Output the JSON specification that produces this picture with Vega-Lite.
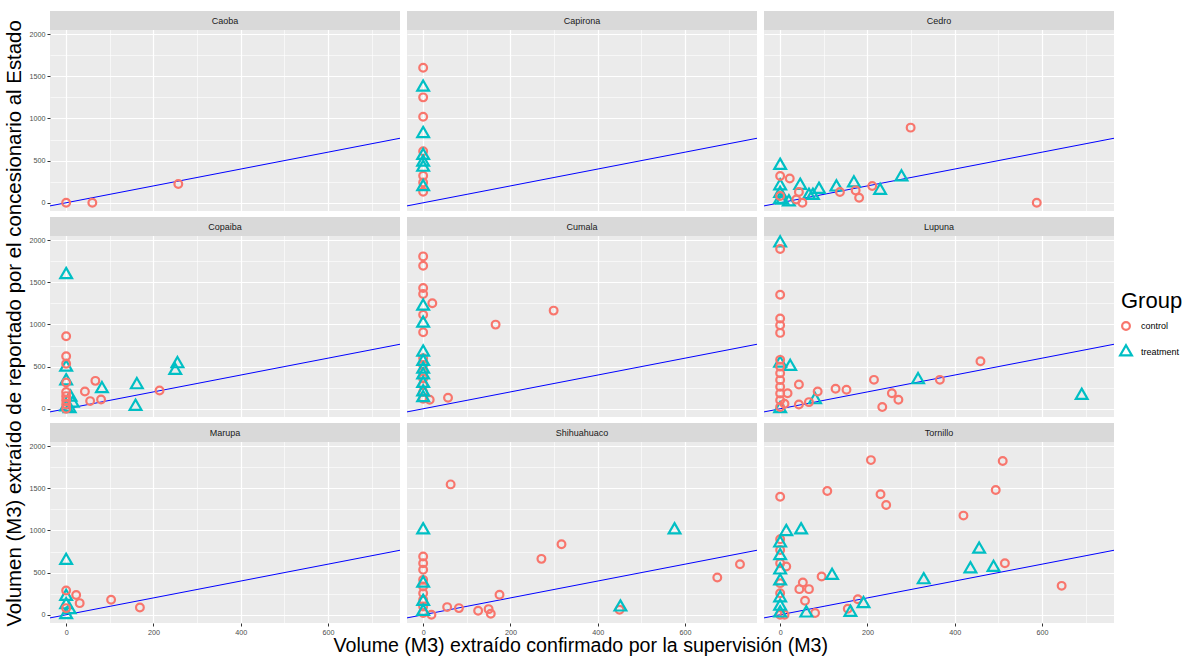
{
  "$schema": "https://vega.github.io/schema/vega-lite/v6.json",
  "background": "white",
  "padding": {"left": 4, "top": 11, "right": 5, "bottom": 2},
  "config": {
    "font": "Liberation Sans",
    "view": {"stroke": null, "fill": "#EBEBEB"},
    "concat": {"spacing": 5},
    "point": {"opacity": 1},
    "axis": {"domain": false, "gridColor": "white", "tickColor": "#333333", "tickSize": 3, "labelFontSize": 7.2, "labelColor": "#4D4D4D", "labelPadding": 2, "title": null},
    "legend": {"orient": "none", "legendX": 1071, "legendY": 280, "titleFontSize": 22, "titleFontWeight": "normal", "titleColor": "black", "labelFontSize": 9, "labelColor": "black", "labelOffset": 10, "symbolStrokeWidth": 2.2, "symbolSize": 60, "symbolOpacity": 1, "rowPadding": 5, "titlePadding": 8}
  },
  "data": {"values": [
    {"species":"Caoba","group":"control","x":0,"y":0},
    {"species":"Caoba","group":"control","x":60,"y":0},
    {"species":"Caoba","group":"control","x":257,"y":222},
    {"species":"Capirona","group":"control","x":0,"y":1600},
    {"species":"Capirona","group":"control","x":0,"y":1250},
    {"species":"Capirona","group":"control","x":0,"y":1020},
    {"species":"Capirona","group":"control","x":0,"y":610},
    {"species":"Capirona","group":"control","x":0,"y":320},
    {"species":"Capirona","group":"control","x":0,"y":240},
    {"species":"Capirona","group":"control","x":0,"y":130},
    {"species":"Capirona","group":"treatment","x":0,"y":1370},
    {"species":"Capirona","group":"treatment","x":0,"y":820},
    {"species":"Capirona","group":"treatment","x":0,"y":560},
    {"species":"Capirona","group":"treatment","x":0,"y":480},
    {"species":"Capirona","group":"treatment","x":0,"y":420},
    {"species":"Capirona","group":"treatment","x":0,"y":190},
    {"species":"Cedro","group":"treatment","x":0,"y":443},
    {"species":"Cedro","group":"treatment","x":0,"y":200},
    {"species":"Cedro","group":"treatment","x":0,"y":110},
    {"species":"Cedro","group":"treatment","x":0,"y":40},
    {"species":"Cedro","group":"treatment","x":5,"y":30},
    {"species":"Cedro","group":"treatment","x":20,"y":10},
    {"species":"Cedro","group":"treatment","x":46,"y":206},
    {"species":"Cedro","group":"treatment","x":66,"y":87},
    {"species":"Cedro","group":"treatment","x":75,"y":87},
    {"species":"Cedro","group":"treatment","x":89,"y":158},
    {"species":"Cedro","group":"treatment","x":129,"y":186},
    {"species":"Cedro","group":"treatment","x":169,"y":234},
    {"species":"Cedro","group":"treatment","x":229,"y":147},
    {"species":"Cedro","group":"treatment","x":278,"y":305},
    {"species":"Cedro","group":"control","x":0,"y":317},
    {"species":"Cedro","group":"control","x":0,"y":80},
    {"species":"Cedro","group":"control","x":22,"y":289},
    {"species":"Cedro","group":"control","x":43,"y":127},
    {"species":"Cedro","group":"control","x":37,"y":40},
    {"species":"Cedro","group":"control","x":51,"y":0},
    {"species":"Cedro","group":"control","x":137,"y":127},
    {"species":"Cedro","group":"control","x":173,"y":147},
    {"species":"Cedro","group":"control","x":181,"y":59},
    {"species":"Cedro","group":"control","x":211,"y":198},
    {"species":"Cedro","group":"control","x":299,"y":891},
    {"species":"Cedro","group":"control","x":588,"y":0},
    {"species":"Copaiba","group":"treatment","x":0,"y":1590},
    {"species":"Copaiba","group":"treatment","x":0,"y":493},
    {"species":"Copaiba","group":"treatment","x":0,"y":330},
    {"species":"Copaiba","group":"treatment","x":10,"y":138},
    {"species":"Copaiba","group":"treatment","x":15,"y":67},
    {"species":"Copaiba","group":"treatment","x":8,"y":0},
    {"species":"Copaiba","group":"treatment","x":0,"y":20},
    {"species":"Copaiba","group":"treatment","x":82,"y":237},
    {"species":"Copaiba","group":"treatment","x":162,"y":284},
    {"species":"Copaiba","group":"treatment","x":159,"y":28},
    {"species":"Copaiba","group":"treatment","x":255,"y":533},
    {"species":"Copaiba","group":"treatment","x":250,"y":454},
    {"species":"Copaiba","group":"control","x":0,"y":860},
    {"species":"Copaiba","group":"control","x":0,"y":623},
    {"species":"Copaiba","group":"control","x":0,"y":533},
    {"species":"Copaiba","group":"control","x":0,"y":312},
    {"species":"Copaiba","group":"control","x":0,"y":200},
    {"species":"Copaiba","group":"control","x":0,"y":150},
    {"species":"Copaiba","group":"control","x":0,"y":100},
    {"species":"Copaiba","group":"control","x":0,"y":50},
    {"species":"Copaiba","group":"control","x":0,"y":0},
    {"species":"Copaiba","group":"control","x":43,"y":205},
    {"species":"Copaiba","group":"control","x":55,"y":91},
    {"species":"Copaiba","group":"control","x":67,"y":331},
    {"species":"Copaiba","group":"control","x":80,"y":110},
    {"species":"Copaiba","group":"control","x":214,"y":217},
    {"species":"Cumala","group":"control","x":0,"y":1807},
    {"species":"Cumala","group":"control","x":0,"y":1697},
    {"species":"Cumala","group":"control","x":0,"y":1432},
    {"species":"Cumala","group":"control","x":0,"y":1361},
    {"species":"Cumala","group":"control","x":21,"y":1251},
    {"species":"Cumala","group":"control","x":0,"y":1116},
    {"species":"Cumala","group":"control","x":0,"y":907},
    {"species":"Cumala","group":"control","x":0,"y":600},
    {"species":"Cumala","group":"control","x":0,"y":520},
    {"species":"Cumala","group":"control","x":0,"y":440},
    {"species":"Cumala","group":"control","x":0,"y":360},
    {"species":"Cumala","group":"control","x":0,"y":280},
    {"species":"Cumala","group":"control","x":0,"y":200},
    {"species":"Cumala","group":"control","x":0,"y":120},
    {"species":"Cumala","group":"control","x":15,"y":107},
    {"species":"Cumala","group":"control","x":57,"y":130},
    {"species":"Cumala","group":"control","x":166,"y":998},
    {"species":"Cumala","group":"control","x":299,"y":1164},
    {"species":"Cumala","group":"treatment","x":0,"y":1215},
    {"species":"Cumala","group":"treatment","x":0,"y":1014},
    {"species":"Cumala","group":"treatment","x":0,"y":671},
    {"species":"Cumala","group":"treatment","x":0,"y":560},
    {"species":"Cumala","group":"treatment","x":0,"y":470},
    {"species":"Cumala","group":"treatment","x":0,"y":400},
    {"species":"Cumala","group":"treatment","x":0,"y":300},
    {"species":"Cumala","group":"treatment","x":0,"y":200},
    {"species":"Cumala","group":"treatment","x":0,"y":130},
    {"species":"Lupuna","group":"treatment","x":0,"y":1965},
    {"species":"Lupuna","group":"treatment","x":0,"y":540},
    {"species":"Lupuna","group":"treatment","x":0,"y":0},
    {"species":"Lupuna","group":"treatment","x":23,"y":501},
    {"species":"Lupuna","group":"treatment","x":80,"y":106},
    {"species":"Lupuna","group":"treatment","x":316,"y":343},
    {"species":"Lupuna","group":"treatment","x":691,"y":158},
    {"species":"Lupuna","group":"control","x":0,"y":1894},
    {"species":"Lupuna","group":"control","x":0,"y":1353},
    {"species":"Lupuna","group":"control","x":0,"y":1070},
    {"species":"Lupuna","group":"control","x":0,"y":990},
    {"species":"Lupuna","group":"control","x":0,"y":900},
    {"species":"Lupuna","group":"control","x":0,"y":580},
    {"species":"Lupuna","group":"control","x":0,"y":500},
    {"species":"Lupuna","group":"control","x":0,"y":420},
    {"species":"Lupuna","group":"control","x":0,"y":340},
    {"species":"Lupuna","group":"control","x":0,"y":260},
    {"species":"Lupuna","group":"control","x":0,"y":180},
    {"species":"Lupuna","group":"control","x":0,"y":100},
    {"species":"Lupuna","group":"control","x":0,"y":20},
    {"species":"Lupuna","group":"control","x":10,"y":60},
    {"species":"Lupuna","group":"control","x":17,"y":185},
    {"species":"Lupuna","group":"control","x":43,"y":288},
    {"species":"Lupuna","group":"control","x":43,"y":51},
    {"species":"Lupuna","group":"control","x":66,"y":79},
    {"species":"Lupuna","group":"control","x":86,"y":205},
    {"species":"Lupuna","group":"control","x":127,"y":237},
    {"species":"Lupuna","group":"control","x":152,"y":225},
    {"species":"Lupuna","group":"control","x":215,"y":343},
    {"species":"Lupuna","group":"control","x":234,"y":20},
    {"species":"Lupuna","group":"control","x":256,"y":185},
    {"species":"Lupuna","group":"control","x":271,"y":106},
    {"species":"Lupuna","group":"control","x":366,"y":343},
    {"species":"Lupuna","group":"control","x":459,"y":564},
    {"species":"Marupa","group":"treatment","x":0,"y":643},
    {"species":"Marupa","group":"treatment","x":0,"y":217},
    {"species":"Marupa","group":"treatment","x":0,"y":118},
    {"species":"Marupa","group":"treatment","x":0,"y":0},
    {"species":"Marupa","group":"treatment","x":8,"y":59},
    {"species":"Marupa","group":"control","x":0,"y":288},
    {"species":"Marupa","group":"control","x":0,"y":79},
    {"species":"Marupa","group":"control","x":23,"y":235},
    {"species":"Marupa","group":"control","x":31,"y":138},
    {"species":"Marupa","group":"control","x":103,"y":178},
    {"species":"Marupa","group":"control","x":169,"y":87},
    {"species":"Shihuahuaco","group":"control","x":63,"y":1546},
    {"species":"Shihuahuaco","group":"control","x":317,"y":836},
    {"species":"Shihuahuaco","group":"control","x":271,"y":663},
    {"species":"Shihuahuaco","group":"control","x":726,"y":600},
    {"species":"Shihuahuaco","group":"control","x":674,"y":442},
    {"species":"Shihuahuaco","group":"control","x":175,"y":237},
    {"species":"Shihuahuaco","group":"control","x":55,"y":91},
    {"species":"Shihuahuaco","group":"control","x":82,"y":79},
    {"species":"Shihuahuaco","group":"control","x":126,"y":47},
    {"species":"Shihuahuaco","group":"control","x":150,"y":67},
    {"species":"Shihuahuaco","group":"control","x":155,"y":12},
    {"species":"Shihuahuaco","group":"control","x":19,"y":0},
    {"species":"Shihuahuaco","group":"control","x":450,"y":59},
    {"species":"Shihuahuaco","group":"control","x":0,"y":690},
    {"species":"Shihuahuaco","group":"control","x":0,"y":611},
    {"species":"Shihuahuaco","group":"control","x":0,"y":533},
    {"species":"Shihuahuaco","group":"control","x":0,"y":414},
    {"species":"Shihuahuaco","group":"control","x":0,"y":335},
    {"species":"Shihuahuaco","group":"control","x":0,"y":256},
    {"species":"Shihuahuaco","group":"control","x":0,"y":177},
    {"species":"Shihuahuaco","group":"control","x":0,"y":99},
    {"species":"Shihuahuaco","group":"control","x":0,"y":20},
    {"species":"Shihuahuaco","group":"treatment","x":0,"y":1006},
    {"species":"Shihuahuaco","group":"treatment","x":576,"y":1006},
    {"species":"Shihuahuaco","group":"treatment","x":452,"y":91},
    {"species":"Shihuahuaco","group":"treatment","x":0,"y":375},
    {"species":"Shihuahuaco","group":"treatment","x":0,"y":158},
    {"species":"Shihuahuaco","group":"treatment","x":0,"y":40},
    {"species":"Tornillo","group":"control","x":0,"y":1400},
    {"species":"Tornillo","group":"control","x":108,"y":1468},
    {"species":"Tornillo","group":"control","x":208,"y":1834},
    {"species":"Tornillo","group":"control","x":510,"y":1823},
    {"species":"Tornillo","group":"control","x":230,"y":1428},
    {"species":"Tornillo","group":"control","x":243,"y":1302},
    {"species":"Tornillo","group":"control","x":494,"y":1479},
    {"species":"Tornillo","group":"control","x":420,"y":1176},
    {"species":"Tornillo","group":"control","x":515,"y":611},
    {"species":"Tornillo","group":"control","x":645,"y":343},
    {"species":"Tornillo","group":"control","x":95,"y":454},
    {"species":"Tornillo","group":"control","x":52,"y":383},
    {"species":"Tornillo","group":"control","x":44,"y":304},
    {"species":"Tornillo","group":"control","x":66,"y":304},
    {"species":"Tornillo","group":"control","x":57,"y":166},
    {"species":"Tornillo","group":"control","x":178,"y":185},
    {"species":"Tornillo","group":"control","x":155,"y":71},
    {"species":"Tornillo","group":"control","x":80,"y":20},
    {"species":"Tornillo","group":"control","x":14,"y":572},
    {"species":"Tornillo","group":"control","x":10,"y":0},
    {"species":"Tornillo","group":"control","x":0,"y":895},
    {"species":"Tornillo","group":"control","x":0,"y":769},
    {"species":"Tornillo","group":"control","x":0,"y":611},
    {"species":"Tornillo","group":"control","x":0,"y":375},
    {"species":"Tornillo","group":"control","x":0,"y":256},
    {"species":"Tornillo","group":"control","x":0,"y":0},
    {"species":"Tornillo","group":"treatment","x":14,"y":986},
    {"species":"Tornillo","group":"treatment","x":48,"y":1006},
    {"species":"Tornillo","group":"treatment","x":456,"y":777},
    {"species":"Tornillo","group":"treatment","x":436,"y":544},
    {"species":"Tornillo","group":"treatment","x":489,"y":560},
    {"species":"Tornillo","group":"treatment","x":329,"y":414},
    {"species":"Tornillo","group":"treatment","x":119,"y":465},
    {"species":"Tornillo","group":"treatment","x":191,"y":130},
    {"species":"Tornillo","group":"treatment","x":161,"y":28},
    {"species":"Tornillo","group":"treatment","x":60,"y":20},
    {"species":"Tornillo","group":"treatment","x":0,"y":850},
    {"species":"Tornillo","group":"treatment","x":0,"y":700},
    {"species":"Tornillo","group":"treatment","x":0,"y":530},
    {"species":"Tornillo","group":"treatment","x":0,"y":400},
    {"species":"Tornillo","group":"treatment","x":0,"y":200},
    {"species":"Tornillo","group":"treatment","x":0,"y":100},
    {"species":"Tornillo","group":"treatment","x":0,"y":20}
  ]},
  "title": {"text": "Volumen (M3) extraído de reportado por el concesionario al Estado", "orient": "left", "anchor": "middle", "fontSize": 20.4, "fontWeight": "normal", "color": "black", "offset": 4, "dx": 10},
  "vconcat": [
    {
      "title": {"text": "Volume (M3) extraído confirmado por la supervisión (M3)", "orient": "bottom", "anchor": "middle", "fontSize": 19.6, "fontWeight": "normal", "color": "black", "offset": 2, "dx": 9},
      "vconcat": [
        {"hconcat": [
          {"width": 350, "height": 200,
           "encoding": {
             "x": {"field": "x", "type": "quantitative", "scale": {"domain": [-37, 765], "nice": false, "zero": false}, "axis": {"values": [0,100,200,300,400,500,600,700], "labels": false, "ticks": false, "gridWidth": {"condition": {"test": "datum.value % 200 === 0", "value": 1.2}, "value": 0.6}}},
             "y": {"field": "y", "type": "quantitative", "scale": {"domain": [-97.5, 2274], "nice": false, "zero": false}, "axis": {"values": [0,250,500,750,1000,1250,1500,1750,2000], "format": "d", "labelExpr": "datum.value % 500 === 0 ? datum.label : ''", "gridWidth": {"condition": {"test": "datum.value % 500 === 0", "value": 1.2}, "value": 0.6}, "tickOpacity": {"condition": {"test": "datum.value % 500 === 0", "value": 1}, "value": 0}}}
           },
           "layer": [
             {"transform": [{"filter": {"and": [{"field": "species", "equal": "Caoba"}, {"field": "x", "equal": 257}]}}], "mark": {"type": "rect", "fill": "#D9D9D9"}, "encoding": {"x": {"datum": -37}, "x2": {"datum": 765}, "y": {"datum": 2047.5}, "y2": {"datum": 2274}}},
             {"transform": [{"filter": {"and": [{"field": "species", "equal": "Caoba"}, {"field": "x", "equal": 257}]}}], "mark": {"type": "text", "fontSize": 9, "color": "#1A1A1A"}, "encoding": {"x": {"datum": 364}, "y": {"datum": 2161}, "text": {"field": "species"}}},
             {"transform": [{"filter": {"and": [{"field": "species", "equal": "Caoba"}, {"field": "x", "equal": 257}]}}], "mark": {"type": "rule", "color": "#0000FF", "strokeWidth": 1}, "encoding": {"x": {"datum": -37}, "y": {"datum": -37}, "x2": {"datum": 765}, "y2": {"datum": 765}}},
             {"transform": [{"filter": {"field": "species", "equal": "Caoba"}}], "mark": {"type": "point", "filled": false, "strokeWidth": 2.2, "size": 60, "opacity": 1},
              "encoding": {
                "color": {"field": "group", "type": "nominal", "title": "Group", "scale": {"domain": ["control", "treatment"], "range": ["#F8766D", "#00BFC4"]}},
                "shape": {"field": "group", "type": "nominal", "title": "Group", "scale": {"domain": ["control", "treatment"], "range": ["circle", "M0,-1.75L1.52,0.88L-1.52,0.88Z"]}}}}
           ]},
          {"width": 350, "height": 200,
           "encoding": {
             "x": {"field": "x", "type": "quantitative", "scale": {"domain": [-37, 765], "nice": false, "zero": false}, "axis": {"values": [0,100,200,300,400,500,600,700], "labels": false, "ticks": false, "gridWidth": {"condition": {"test": "datum.value % 200 === 0", "value": 1.2}, "value": 0.6}}},
             "y": {"field": "y", "type": "quantitative", "scale": {"domain": [-97.5, 2274], "nice": false, "zero": false}, "axis": {"values": [0,250,500,750,1000,1250,1500,1750,2000], "labels": false, "ticks": false, "gridWidth": {"condition": {"test": "datum.value % 500 === 0", "value": 1.2}, "value": 0.6}}}
           },
           "layer": [
             {"transform": [{"filter": {"and": [{"field": "species", "equal": "Capirona"}, {"field": "y", "equal": 1600}]}}], "mark": {"type": "rect", "fill": "#D9D9D9"}, "encoding": {"x": {"datum": -37}, "x2": {"datum": 765}, "y": {"datum": 2047.5}, "y2": {"datum": 2274}}},
             {"transform": [{"filter": {"and": [{"field": "species", "equal": "Capirona"}, {"field": "y", "equal": 1600}]}}], "mark": {"type": "text", "fontSize": 9, "color": "#1A1A1A"}, "encoding": {"x": {"datum": 364}, "y": {"datum": 2161}, "text": {"field": "species"}}},
             {"transform": [{"filter": {"and": [{"field": "species", "equal": "Capirona"}, {"field": "y", "equal": 1600}]}}], "mark": {"type": "rule", "color": "#0000FF", "strokeWidth": 1}, "encoding": {"x": {"datum": -37}, "y": {"datum": -37}, "x2": {"datum": 765}, "y2": {"datum": 765}}},
             {"transform": [{"filter": {"field": "species", "equal": "Capirona"}}], "mark": {"type": "point", "filled": false, "strokeWidth": 2.2, "size": 60, "opacity": 1},
              "encoding": {
                "color": {"field": "group", "type": "nominal", "title": "Group", "scale": {"domain": ["control", "treatment"], "range": ["#F8766D", "#00BFC4"]}},
                "shape": {"field": "group", "type": "nominal", "title": "Group", "scale": {"domain": ["control", "treatment"], "range": ["circle", "M0,-1.75L1.52,0.88L-1.52,0.88Z"]}}}}
           ]},
          {"width": 350, "height": 200,
           "encoding": {
             "x": {"field": "x", "type": "quantitative", "scale": {"domain": [-37, 765], "nice": false, "zero": false}, "axis": {"values": [0,100,200,300,400,500,600,700], "labels": false, "ticks": false, "gridWidth": {"condition": {"test": "datum.value % 200 === 0", "value": 1.2}, "value": 0.6}}},
             "y": {"field": "y", "type": "quantitative", "scale": {"domain": [-97.5, 2274], "nice": false, "zero": false}, "axis": {"values": [0,250,500,750,1000,1250,1500,1750,2000], "labels": false, "ticks": false, "gridWidth": {"condition": {"test": "datum.value % 500 === 0", "value": 1.2}, "value": 0.6}}}
           },
           "layer": [
             {"transform": [{"filter": {"and": [{"field": "species", "equal": "Cedro"}, {"field": "x", "equal": 588}]}}], "mark": {"type": "rect", "fill": "#D9D9D9"}, "encoding": {"x": {"datum": -37}, "x2": {"datum": 765}, "y": {"datum": 2047.5}, "y2": {"datum": 2274}}},
             {"transform": [{"filter": {"and": [{"field": "species", "equal": "Cedro"}, {"field": "x", "equal": 588}]}}], "mark": {"type": "text", "fontSize": 9, "color": "#1A1A1A"}, "encoding": {"x": {"datum": 364}, "y": {"datum": 2161}, "text": {"field": "species"}}},
             {"transform": [{"filter": {"and": [{"field": "species", "equal": "Cedro"}, {"field": "x", "equal": 588}]}}], "mark": {"type": "rule", "color": "#0000FF", "strokeWidth": 1}, "encoding": {"x": {"datum": -37}, "y": {"datum": -37}, "x2": {"datum": 765}, "y2": {"datum": 765}}},
             {"transform": [{"filter": {"field": "species", "equal": "Cedro"}}], "mark": {"type": "point", "filled": false, "strokeWidth": 2.2, "size": 60, "opacity": 1},
              "encoding": {
                "color": {"field": "group", "type": "nominal", "title": "Group", "scale": {"domain": ["control", "treatment"], "range": ["#F8766D", "#00BFC4"]}},
                "shape": {"field": "group", "type": "nominal", "title": "Group", "scale": {"domain": ["control", "treatment"], "range": ["circle", "M0,-1.75L1.52,0.88L-1.52,0.88Z"]}}}}
           ]}
        ]},
        {"hconcat": [
          {"width": 350, "height": 200,
           "encoding": {
             "x": {"field": "x", "type": "quantitative", "scale": {"domain": [-37, 765], "nice": false, "zero": false}, "axis": {"values": [0,100,200,300,400,500,600,700], "labels": false, "ticks": false, "gridWidth": {"condition": {"test": "datum.value % 200 === 0", "value": 1.2}, "value": 0.6}}},
             "y": {"field": "y", "type": "quantitative", "scale": {"domain": [-97.5, 2274], "nice": false, "zero": false}, "axis": {"values": [0,250,500,750,1000,1250,1500,1750,2000], "format": "d", "labelExpr": "datum.value % 500 === 0 ? datum.label : ''", "gridWidth": {"condition": {"test": "datum.value % 500 === 0", "value": 1.2}, "value": 0.6}, "tickOpacity": {"condition": {"test": "datum.value % 500 === 0", "value": 1}, "value": 0}}}
           },
           "layer": [
             {"transform": [{"filter": {"and": [{"field": "species", "equal": "Copaiba"}, {"field": "x", "equal": 214}]}}], "mark": {"type": "rect", "fill": "#D9D9D9"}, "encoding": {"x": {"datum": -37}, "x2": {"datum": 765}, "y": {"datum": 2047.5}, "y2": {"datum": 2274}}},
             {"transform": [{"filter": {"and": [{"field": "species", "equal": "Copaiba"}, {"field": "x", "equal": 214}]}}], "mark": {"type": "text", "fontSize": 9, "color": "#1A1A1A"}, "encoding": {"x": {"datum": 364}, "y": {"datum": 2161}, "text": {"field": "species"}}},
             {"transform": [{"filter": {"and": [{"field": "species", "equal": "Copaiba"}, {"field": "x", "equal": 214}]}}], "mark": {"type": "rule", "color": "#0000FF", "strokeWidth": 1}, "encoding": {"x": {"datum": -37}, "y": {"datum": -37}, "x2": {"datum": 765}, "y2": {"datum": 765}}},
             {"transform": [{"filter": {"field": "species", "equal": "Copaiba"}}], "mark": {"type": "point", "filled": false, "strokeWidth": 2.2, "size": 60, "opacity": 1},
              "encoding": {
                "color": {"field": "group", "type": "nominal", "title": "Group", "scale": {"domain": ["control", "treatment"], "range": ["#F8766D", "#00BFC4"]}},
                "shape": {"field": "group", "type": "nominal", "title": "Group", "scale": {"domain": ["control", "treatment"], "range": ["circle", "M0,-1.75L1.52,0.88L-1.52,0.88Z"]}}}}
           ]},
          {"width": 350, "height": 200,
           "encoding": {
             "x": {"field": "x", "type": "quantitative", "scale": {"domain": [-37, 765], "nice": false, "zero": false}, "axis": {"values": [0,100,200,300,400,500,600,700], "labels": false, "ticks": false, "gridWidth": {"condition": {"test": "datum.value % 200 === 0", "value": 1.2}, "value": 0.6}}},
             "y": {"field": "y", "type": "quantitative", "scale": {"domain": [-97.5, 2274], "nice": false, "zero": false}, "axis": {"values": [0,250,500,750,1000,1250,1500,1750,2000], "labels": false, "ticks": false, "gridWidth": {"condition": {"test": "datum.value % 500 === 0", "value": 1.2}, "value": 0.6}}}
           },
           "layer": [
             {"transform": [{"filter": {"and": [{"field": "species", "equal": "Cumala"}, {"field": "x", "equal": 166}]}}], "mark": {"type": "rect", "fill": "#D9D9D9"}, "encoding": {"x": {"datum": -37}, "x2": {"datum": 765}, "y": {"datum": 2047.5}, "y2": {"datum": 2274}}},
             {"transform": [{"filter": {"and": [{"field": "species", "equal": "Cumala"}, {"field": "x", "equal": 166}]}}], "mark": {"type": "text", "fontSize": 9, "color": "#1A1A1A"}, "encoding": {"x": {"datum": 364}, "y": {"datum": 2161}, "text": {"field": "species"}}},
             {"transform": [{"filter": {"and": [{"field": "species", "equal": "Cumala"}, {"field": "x", "equal": 166}]}}], "mark": {"type": "rule", "color": "#0000FF", "strokeWidth": 1}, "encoding": {"x": {"datum": -37}, "y": {"datum": -37}, "x2": {"datum": 765}, "y2": {"datum": 765}}},
             {"transform": [{"filter": {"field": "species", "equal": "Cumala"}}], "mark": {"type": "point", "filled": false, "strokeWidth": 2.2, "size": 60, "opacity": 1},
              "encoding": {
                "color": {"field": "group", "type": "nominal", "title": "Group", "scale": {"domain": ["control", "treatment"], "range": ["#F8766D", "#00BFC4"]}},
                "shape": {"field": "group", "type": "nominal", "title": "Group", "scale": {"domain": ["control", "treatment"], "range": ["circle", "M0,-1.75L1.52,0.88L-1.52,0.88Z"]}}}}
           ]},
          {"width": 350, "height": 200,
           "encoding": {
             "x": {"field": "x", "type": "quantitative", "scale": {"domain": [-37, 765], "nice": false, "zero": false}, "axis": {"values": [0,100,200,300,400,500,600,700], "labels": false, "ticks": false, "gridWidth": {"condition": {"test": "datum.value % 200 === 0", "value": 1.2}, "value": 0.6}}},
             "y": {"field": "y", "type": "quantitative", "scale": {"domain": [-97.5, 2274], "nice": false, "zero": false}, "axis": {"values": [0,250,500,750,1000,1250,1500,1750,2000], "labels": false, "ticks": false, "gridWidth": {"condition": {"test": "datum.value % 500 === 0", "value": 1.2}, "value": 0.6}}}
           },
           "layer": [
             {"transform": [{"filter": {"and": [{"field": "species", "equal": "Lupuna"}, {"field": "x", "equal": 691}]}}], "mark": {"type": "rect", "fill": "#D9D9D9"}, "encoding": {"x": {"datum": -37}, "x2": {"datum": 765}, "y": {"datum": 2047.5}, "y2": {"datum": 2274}}},
             {"transform": [{"filter": {"and": [{"field": "species", "equal": "Lupuna"}, {"field": "x", "equal": 691}]}}], "mark": {"type": "text", "fontSize": 9, "color": "#1A1A1A"}, "encoding": {"x": {"datum": 364}, "y": {"datum": 2161}, "text": {"field": "species"}}},
             {"transform": [{"filter": {"and": [{"field": "species", "equal": "Lupuna"}, {"field": "x", "equal": 691}]}}], "mark": {"type": "rule", "color": "#0000FF", "strokeWidth": 1}, "encoding": {"x": {"datum": -37}, "y": {"datum": -37}, "x2": {"datum": 765}, "y2": {"datum": 765}}},
             {"transform": [{"filter": {"field": "species", "equal": "Lupuna"}}], "mark": {"type": "point", "filled": false, "strokeWidth": 2.2, "size": 60, "opacity": 1},
              "encoding": {
                "color": {"field": "group", "type": "nominal", "title": "Group", "scale": {"domain": ["control", "treatment"], "range": ["#F8766D", "#00BFC4"]}},
                "shape": {"field": "group", "type": "nominal", "title": "Group", "scale": {"domain": ["control", "treatment"], "range": ["circle", "M0,-1.75L1.52,0.88L-1.52,0.88Z"]}}}}
           ]}
        ]},
        {"hconcat": [
          {"width": 350, "height": 200,
           "encoding": {
             "x": {"field": "x", "type": "quantitative", "scale": {"domain": [-37, 765], "nice": false, "zero": false}, "axis": {"values": [0,100,200,300,400,500,600,700], "format": "d", "labelExpr": "datum.value % 200 === 0 ? datum.label : ''", "gridWidth": {"condition": {"test": "datum.value % 200 === 0", "value": 1.2}, "value": 0.6}, "tickOpacity": {"condition": {"test": "datum.value % 200 === 0", "value": 1}, "value": 0}}},
             "y": {"field": "y", "type": "quantitative", "scale": {"domain": [-97.5, 2274], "nice": false, "zero": false}, "axis": {"values": [0,250,500,750,1000,1250,1500,1750,2000], "format": "d", "labelExpr": "datum.value % 500 === 0 ? datum.label : ''", "gridWidth": {"condition": {"test": "datum.value % 500 === 0", "value": 1.2}, "value": 0.6}, "tickOpacity": {"condition": {"test": "datum.value % 500 === 0", "value": 1}, "value": 0}}}
           },
           "layer": [
             {"transform": [{"filter": {"and": [{"field": "species", "equal": "Marupa"}, {"field": "x", "equal": 169}]}}], "mark": {"type": "rect", "fill": "#D9D9D9"}, "encoding": {"x": {"datum": -37}, "x2": {"datum": 765}, "y": {"datum": 2047.5}, "y2": {"datum": 2274}}},
             {"transform": [{"filter": {"and": [{"field": "species", "equal": "Marupa"}, {"field": "x", "equal": 169}]}}], "mark": {"type": "text", "fontSize": 9, "color": "#1A1A1A"}, "encoding": {"x": {"datum": 364}, "y": {"datum": 2161}, "text": {"field": "species"}}},
             {"transform": [{"filter": {"and": [{"field": "species", "equal": "Marupa"}, {"field": "x", "equal": 169}]}}], "mark": {"type": "rule", "color": "#0000FF", "strokeWidth": 1}, "encoding": {"x": {"datum": -37}, "y": {"datum": -37}, "x2": {"datum": 765}, "y2": {"datum": 765}}},
             {"transform": [{"filter": {"field": "species", "equal": "Marupa"}}], "mark": {"type": "point", "filled": false, "strokeWidth": 2.2, "size": 60, "opacity": 1},
              "encoding": {
                "color": {"field": "group", "type": "nominal", "title": "Group", "scale": {"domain": ["control", "treatment"], "range": ["#F8766D", "#00BFC4"]}},
                "shape": {"field": "group", "type": "nominal", "title": "Group", "scale": {"domain": ["control", "treatment"], "range": ["circle", "M0,-1.75L1.52,0.88L-1.52,0.88Z"]}}}}
           ]},
          {"width": 350, "height": 200,
           "encoding": {
             "x": {"field": "x", "type": "quantitative", "scale": {"domain": [-37, 765], "nice": false, "zero": false}, "axis": {"values": [0,100,200,300,400,500,600,700], "format": "d", "labelExpr": "datum.value % 200 === 0 ? datum.label : ''", "gridWidth": {"condition": {"test": "datum.value % 200 === 0", "value": 1.2}, "value": 0.6}, "tickOpacity": {"condition": {"test": "datum.value % 200 === 0", "value": 1}, "value": 0}}},
             "y": {"field": "y", "type": "quantitative", "scale": {"domain": [-97.5, 2274], "nice": false, "zero": false}, "axis": {"values": [0,250,500,750,1000,1250,1500,1750,2000], "labels": false, "ticks": false, "gridWidth": {"condition": {"test": "datum.value % 500 === 0", "value": 1.2}, "value": 0.6}}}
           },
           "layer": [
             {"transform": [{"filter": {"and": [{"field": "species", "equal": "Shihuahuaco"}, {"field": "x", "equal": 726}]}}], "mark": {"type": "rect", "fill": "#D9D9D9"}, "encoding": {"x": {"datum": -37}, "x2": {"datum": 765}, "y": {"datum": 2047.5}, "y2": {"datum": 2274}}},
             {"transform": [{"filter": {"and": [{"field": "species", "equal": "Shihuahuaco"}, {"field": "x", "equal": 726}]}}], "mark": {"type": "text", "fontSize": 9, "color": "#1A1A1A"}, "encoding": {"x": {"datum": 364}, "y": {"datum": 2161}, "text": {"field": "species"}}},
             {"transform": [{"filter": {"and": [{"field": "species", "equal": "Shihuahuaco"}, {"field": "x", "equal": 726}]}}], "mark": {"type": "rule", "color": "#0000FF", "strokeWidth": 1}, "encoding": {"x": {"datum": -37}, "y": {"datum": -37}, "x2": {"datum": 765}, "y2": {"datum": 765}}},
             {"transform": [{"filter": {"field": "species", "equal": "Shihuahuaco"}}], "mark": {"type": "point", "filled": false, "strokeWidth": 2.2, "size": 60, "opacity": 1},
              "encoding": {
                "color": {"field": "group", "type": "nominal", "title": "Group", "scale": {"domain": ["control", "treatment"], "range": ["#F8766D", "#00BFC4"]}},
                "shape": {"field": "group", "type": "nominal", "title": "Group", "scale": {"domain": ["control", "treatment"], "range": ["circle", "M0,-1.75L1.52,0.88L-1.52,0.88Z"]}}}}
           ]},
          {"width": 350, "height": 200,
           "encoding": {
             "x": {"field": "x", "type": "quantitative", "scale": {"domain": [-37, 765], "nice": false, "zero": false}, "axis": {"values": [0,100,200,300,400,500,600,700], "format": "d", "labelExpr": "datum.value % 200 === 0 ? datum.label : ''", "gridWidth": {"condition": {"test": "datum.value % 200 === 0", "value": 1.2}, "value": 0.6}, "tickOpacity": {"condition": {"test": "datum.value % 200 === 0", "value": 1}, "value": 0}}},
             "y": {"field": "y", "type": "quantitative", "scale": {"domain": [-97.5, 2274], "nice": false, "zero": false}, "axis": {"values": [0,250,500,750,1000,1250,1500,1750,2000], "labels": false, "ticks": false, "gridWidth": {"condition": {"test": "datum.value % 500 === 0", "value": 1.2}, "value": 0.6}}}
           },
           "layer": [
             {"transform": [{"filter": {"and": [{"field": "species", "equal": "Tornillo"}, {"field": "x", "equal": 645}]}}], "mark": {"type": "rect", "fill": "#D9D9D9"}, "encoding": {"x": {"datum": -37}, "x2": {"datum": 765}, "y": {"datum": 2047.5}, "y2": {"datum": 2274}}},
             {"transform": [{"filter": {"and": [{"field": "species", "equal": "Tornillo"}, {"field": "x", "equal": 645}]}}], "mark": {"type": "text", "fontSize": 9, "color": "#1A1A1A"}, "encoding": {"x": {"datum": 364}, "y": {"datum": 2161}, "text": {"field": "species"}}},
             {"transform": [{"filter": {"and": [{"field": "species", "equal": "Tornillo"}, {"field": "x", "equal": 645}]}}], "mark": {"type": "rule", "color": "#0000FF", "strokeWidth": 1}, "encoding": {"x": {"datum": -37}, "y": {"datum": -37}, "x2": {"datum": 765}, "y2": {"datum": 765}}},
             {"transform": [{"filter": {"field": "species", "equal": "Tornillo"}}], "mark": {"type": "point", "filled": false, "strokeWidth": 2.2, "size": 60, "opacity": 1},
              "encoding": {
                "color": {"field": "group", "type": "nominal", "title": "Group", "scale": {"domain": ["control", "treatment"], "range": ["#F8766D", "#00BFC4"]}},
                "shape": {"field": "group", "type": "nominal", "title": "Group", "scale": {"domain": ["control", "treatment"], "range": ["circle", "M0,-1.75L1.52,0.88L-1.52,0.88Z"]}}}}
           ]}
        ]}
      ]
    }
  ]
}
